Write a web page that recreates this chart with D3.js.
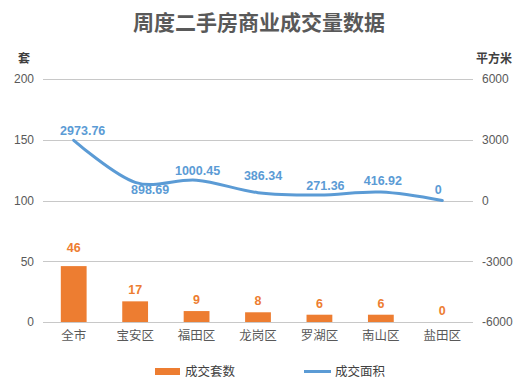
<!DOCTYPE html>
<html lang="zh">
<head>
<meta charset="utf-8">
<style>
  body { margin:0; padding:0; background:#fff; }
  svg text { font-family: "Liberation Sans", "Noto Sans CJK SC", sans-serif; }
  .cn { font-family: "Noto Sans CJK SC", sans-serif; }
</style>
<script src="https://cdn.jsdelivr.net/npm/d3@7"></script>
</head>
<body>
<svg id="chart" width="527" height="388"></svg>
<script>
// data
var categories = ["全市", "宝安区", "福田区", "龙岗区", "罗湖区", "南山区", "盐田区"];
var units = [46, 17, 9, 8, 6, 6, 0];              // 成交套数
var area = [2973.76, 898.69, 1000.45, 386.34, 271.36, 416.92, 0]; // 成交面积
var leftTicks = [0, 50, 100, 150, 200];
var rightTicks = [-6000, -3000, 0, 3000, 6000];

var svg = d3.select("#chart");
var plotL = 43, plotR = 473, plotT = 79, plotB = 322;

var x = d3.scaleBand().domain(categories).range([plotL, plotR]).paddingInner(0.58).paddingOuter(0.29);
var yL = d3.scaleLinear().domain([0, 200]).range([plotB, plotT]);
var yR = d3.scaleLinear().domain([-6000, 6000]).range([plotB, plotT]);

// title
svg.append("text").attr("class", "cn")
  .attr("x", 259).attr("y", 30)
  .attr("text-anchor", "middle")
  .attr("font-size", 21).attr("font-weight", "bold")
  .attr("fill", "#595959")
  .text("周度二手房商业成交量数据");

// grid
svg.append("g").selectAll("line").data(leftTicks).enter().append("line")
  .attr("x1", plotL).attr("x2", plotR)
  .attr("y1", function(d){ return Math.round(yL(d)) + 0.5; })
  .attr("y2", function(d){ return Math.round(yL(d)) + 0.5; })
  .attr("stroke", "#c8c8c8").attr("stroke-width", 1);

// axes
var plain = function(d){ return String(d); };
var axL = svg.append("g").attr("transform", "translate(" + (plotL - 9) + ",0)")
  .call(d3.axisLeft(yL).tickValues(leftTicks).tickFormat(plain).tickSize(0).tickPadding(0));
var axR = svg.append("g").attr("transform", "translate(" + (plotR + 9) + ",0)")
  .call(d3.axisRight(yR).tickValues(rightTicks).tickFormat(plain).tickSize(0).tickPadding(0));
var axX = svg.append("g").attr("transform", "translate(0," + plotB + ")")
  .call(d3.axisBottom(x).tickSize(0).tickPadding(9));
[axL, axR, axX].forEach(function(a){
  a.select(".domain").remove();
  a.selectAll("text").attr("font-size", 12).attr("fill", "#595959");
});
axX.selectAll("text").attr("class", "cn").attr("font-size", 12.5);

svg.append("text").attr("class", "cn").attr("x", 24).attr("y", 63)
  .attr("text-anchor", "middle").attr("font-size", 12).attr("font-weight", "bold")
  .attr("fill", "#404040").text("套");
svg.append("text").attr("class", "cn").attr("x", 494).attr("y", 63)
  .attr("text-anchor", "middle").attr("font-size", 12).attr("font-weight", "bold")
  .attr("fill", "#404040").text("平方米");

// bars
svg.append("g").selectAll("rect").data(units).enter().append("rect")
  .attr("x", function(d, i){ return x(categories[i]); })
  .attr("width", x.bandwidth())
  .attr("y", function(d){ return yL(d); })
  .attr("height", function(d){ return plotB - yL(d); })
  .attr("fill", "#ED7D31");

svg.append("g").selectAll("text").data(units).enter().append("text")
  .attr("x", function(d, i){ return x(categories[i]) + x.bandwidth() / 2; })
  .attr("y", function(d, i){ return yL(d) - (i === 0 ? 14 : 7); })
  .attr("text-anchor", "middle")
  .attr("font-size", 12.5).attr("font-weight", "bold")
  .attr("fill", "#ED7D31")
  .text(function(d){ return d; });

// line
var cx = function(i){ return x(categories[i]) + x.bandwidth() / 2; };
var line = d3.line()
  .x(function(d, i){ return cx(i); })
  .y(function(d){ return yR(d); })
  .curve(d3.curveCatmullRom.alpha(0));
svg.append("path").datum(area)
  .attr("d", line)
  .attr("fill", "none")
  .attr("stroke", "#5B9BD5")
  .attr("stroke-width", 3)
  .attr("stroke-linecap", "round");

// label nudges (dx, dy from the point)
var labelDx = [9, 15, 1, 5, 6, 2, -4];
var labelDy = [-5, 12, -5, -13, -5, -7, -7];
svg.append("g").selectAll("text").data(area).enter().append("text")
  .attr("x", function(d, i){ return cx(i) + labelDx[i]; })
  .attr("y", function(d, i){ return yR(d) + labelDy[i]; })
  .attr("text-anchor", "middle")
  .attr("font-size", 12.5).attr("font-weight", "bold")
  .attr("fill", "#5B9BD5")
  .text(function(d){ return d; });

// legend
var lg = svg.append("g");
lg.append("rect").attr("x", 155).attr("y", 368).attr("width", 25).attr("height", 7).attr("fill", "#ED7D31");
lg.append("text").attr("class", "cn").attr("x", 185).attr("y", 376)
  .attr("font-size", 12.5).attr("fill", "#404040").text("成交套数");
lg.append("line").attr("x1", 304).attr("x2", 331).attr("y1", 371.5).attr("y2", 371.5)
  .attr("stroke", "#5B9BD5").attr("stroke-width", 3);
lg.append("text").attr("class", "cn").attr("x", 335).attr("y", 376)
  .attr("font-size", 12.5).attr("fill", "#404040").text("成交面积");
</script>
</body>
</html>
